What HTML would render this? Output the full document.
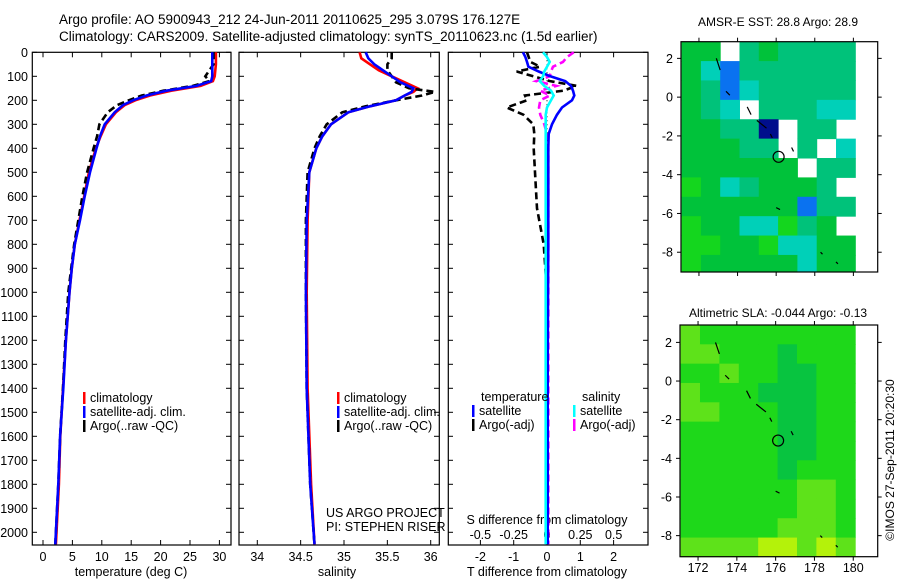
<!DOCTYPE html>
<html><head><meta charset="utf-8"><style>
html,body{margin:0;padding:0;background:#fff;}
svg{display:block;font-family:"Liberation Sans",sans-serif;}
</style></head><body>
<svg id="fig" width="900" height="580" viewBox="0 0 900 580" xmlns="http://www.w3.org/2000/svg">
<text x="59" y="24" font-size="13.5">Argo profile: AO 5900943_212 24-Jun-2011 20110625_295 3.079S 176.127E</text>
<text x="59" y="41" font-size="13.5">Climatology: CARS2009. Satellite-adjusted climatology: synTS_20110623.nc (1.5d earlier)</text>
<text x="778" y="26" font-size="12" text-anchor="middle">AMSR-E SST: 28.8 Argo: 28.9</text>
<text x="778" y="317" font-size="12" text-anchor="middle">Altimetric SLA: -0.044 Argo: -0.13</text>
<text x="0" y="0" font-size="12" text-anchor="middle" transform="translate(894,460) rotate(-90)">©IMOS 27-Sep-2011 20:20:30</text>
<g id="g"></g>
</svg>
<script>
// ---- profile data ----
const tempDepth = [0,50,100,120,140,160,180,200,220,250,300,350,400,500,600,700,800,900,1000,1200,1400,1600,1800,2000,2050];
const tempSat  = [28.8,28.8,28.8,28.6,26.1,21,17.6,15.3,13.6,12.2,10.5,9.7,9.1,8.0,7.1,6.3,5.4,4.9,4.5,3.9,3.45,2.9,2.6,2.2,2.1];
const tempClim = [29.4,29.4,29.2,28.9,26.8,21.8,18.2,15.7,13.9,12.4,10.7,9.8,9.0,7.8,7.0,6.2,5.4,4.9,4.5,3.9,3.4,2.95,2.7,2.3,2.2];
const tempArgo = [29.0,29.0,27.6,28.3,25.5,20.5,16.8,14.6,12.6,11.0,9.6,9.2,8.6,7.5,6.7,6.0,5.3,4.8,4.3,3.8,3.4,2.9,2.6,2.2,2.1];
const salDepth = [0,25,50,75,100,125,150,165,180,200,225,250,300,350,400,500,700,1000,1400,1800,2050];
const salSat  = [35.25,35.28,35.35,35.45,35.55,35.65,35.8,35.78,35.7,35.6,35.3,35.05,34.85,34.75,34.68,34.6,34.57,34.56,34.57,34.61,34.66];
const salClim = [35.18,35.2,35.3,35.4,35.55,35.7,35.85,35.8,35.7,35.6,35.3,35.05,34.85,34.75,34.68,34.6,34.58,34.57,34.58,34.62,34.66];
const salArgo = [35.55,35.55,35.5,35.5,35.55,35.6,35.75,36.05,35.9,35.6,35.25,34.98,34.8,34.72,34.66,34.58,34.56,34.56,34.57,34.61,34.66];
const diffDepth = [0,20,40,60,80,100,120,140,160,180,200,230,260,300,340,400,500,650,800,1000,1300,1600,2050];
const tDiffSat  = [-0.72,-0.65,-0.6,-0.56,-0.25,0.1,0.55,0.72,0.78,0.82,0.75,0.45,0.3,0.15,0.05,0.04,0.04,0.04,0.04,0.03,0.02,0.02,0.02];
const tDiffArgo = [-0.6,-0.55,-0.5,-0.21,-0.91,-0.41,0.09,0.89,0.49,-0.66,-0.6,-1.21,-0.71,-0.41,-0.38,-0.4,-0.36,-0.3,-0.1,0,0,0,0];
const sDiffSat  = [-0.03,0,0.02,0,-0.02,-0.03,-0.054,-0.02,0.03,0.05,0.03,0,-0.01,-0.01,-0.01,-0.01,-0.01,-0.01,-0.01,-0.01,-0.01,-0.01,-0.01];
const sDiffArgo = [0.2,0.15,0.12,0.045,0.03,0.02,-0.08,0.07,-0.05,0.02,-0.05,-0.06,-0.05,-0.02,0,0.01,0.01,0.01,0.01,0.01,0.01,0.01,0.01];
const depthTicks = [0,100,200,300,400,500,600,700,800,900,1000,1100,1200,1300,1400,1500,1600,1700,1800,1900,2000];
const tempTicks = [0,5,10,15,20,25,30];
const salTicks = ["34","34.5","35","35.5","36"];
const tDiffTicks = [-2,-1,0,1,2];
const sDiffTicks = ["-0.5","-0.25","0","0.25","0.5"];
// ---- map data (1-degree cells, rows from north, cols from 171.1E) ----
const sstCodes = [
 [0,0,-1,2,0,2,2,2,2],[0,3,4,2,2,2,2,2,2],[0,2,4,3,2,2,2,2,2],[0,2,3,-1,2,2,2,3,3],
 [0,0,2,2,5,-1,2,2,-1],[0,0,0,2,2,-1,2,-1,3],[0,0,0,0,0,0,-1,2,2],[1,0,3,2,0,0,0,2,-1],
 [0,0,0,0,0,0,4,2,2],[1,0,0,3,3,1,2,0,-1],[1,1,0,0,1,3,3,0,0],[1,0,0,0,0,0,3,0,0]];
const slaCodes = [
 [1,0,0,0,0,0,0,0,0],[1,1,0,0,0,3,0,0,0],[0,0,1,0,0,3,3,0,0],[1,0,0,0,3,3,3,0,0],
 [1,1,0,0,0,3,3,0,0],[0,0,0,0,0,3,3,0,0],[0,0,0,0,0,3,3,0,0],[0,0,0,0,0,3,0,0,0],
 [0,0,0,0,0,0,1,1,0],[0,0,0,0,0,0,1,1,0],[0,0,0,0,0,1,1,1,0],[1,1,1,1,2,2,1,2,1]];
const latTicks = [2,0,-2,-4,-6,-8];
const lonTicks = [172,174,176,178,180];
const floatLon = 176.127, floatLat = -3.079;

const NS="http://www.w3.org/2000/svg";
const G=document.getElementById('g');
function el(t,a,p){const e=document.createElementNS(NS,t);for(const k in a)e.setAttribute(k,a[k]);(p||G).appendChild(e);return e;}
function txt(x,y,s,a){const e=el('text',Object.assign({x:x,y:y,'font-size':12},a||{}));e.textContent=s;return e;}

const TOP=52.3, BOT=545, PXM=0.24;
const yD=d=>TOP+d*PXM;
function frame(x0,x1,name){
  const r=el('rect',{x:x0,y:TOP,width:x1-x0,height:BOT-TOP,fill:'none',stroke:'#000','stroke-width':1.2});
  
  
}
function line(xs,ds,xf,color,name,dash){
  let p='';xs.forEach((v,i)=>{p+=(i?'L':'M')+xf(v).toFixed(1)+','+yD(ds[i]).toFixed(1);});
  const e=el('path',{d:p,fill:'none',stroke:color,'stroke-width':2.6});
  if(dash)e.setAttribute('stroke-dasharray',dash);
  
  
}
function legend(x,y,items,name){
  items.forEach((it,i)=>{
    const g=el('g',{});
    
    
    el('rect',{x:x,y:y+i*14-10,width:2.5,height:12,fill:it[1]},g);
    const t=el('text',{x:x+7,y:y+i*14,'font-size':12.5},g);t.textContent=it[0];
  });
}

// panel 1 temperature
const xT=v=>43+v*5.88;
frame(32.3,231,'temperature-panel');
depthTicks.forEach(d=>{const y=yD(d);el('line',{x1:32.3,x2:37,y1:y,y2:y,stroke:'#000'});el('line',{x1:226,x2:231,y1:y,y2:y,stroke:'#000'});
  const t=txt(28,y+4.5,String(d),{'text-anchor':'end','font-size':12.5});});
tempTicks.forEach(v=>{const x=xT(v);el('line',{x1:x,x2:x,y1:BOT,y2:BOT-5,stroke:'#000'});el('line',{x1:x,x2:x,y1:TOP,y2:TOP+5,stroke:'#000'});
  txt(x,561,String(v),{'text-anchor':'middle','font-size':12.5});});
txt(131,576,'temperature (deg C)',{'text-anchor':'middle','font-size':12.5});
line(tempClim,tempDepth,xT,'#f00','temp-climatology-line');
line(tempArgo,tempDepth,xT,'#000','temp-argo-line','7,4');
line(tempSat,tempDepth,xT,'#00f','temp-satellite-line');
legend(83,402,[['climatology','#f00'],['satellite-adj. clim.','#00f'],['Argo(..raw -QC)','#000']],'temp-legend');

// panel 2 salinity
const xS=v=>344+(v-35)*86.7;
frame(239,439.3,'salinity-panel');
depthTicks.forEach(d=>{const y=yD(d);el('line',{x1:239,x2:244,y1:y,y2:y,stroke:'#000'});el('line',{x1:434,x2:439.3,y1:y,y2:y,stroke:'#000'});});
salTicks.forEach(v=>{const x=xS(+v);el('line',{x1:x,x2:x,y1:BOT,y2:BOT-5,stroke:'#000'});el('line',{x1:x,x2:x,y1:TOP,y2:TOP+5,stroke:'#000'});
  txt(x,561,v,{'text-anchor':'middle','font-size':12.5});});
txt(337,576,'salinity',{'text-anchor':'middle','font-size':12.5});
line(salClim,salDepth,xS,'#f00','sal-climatology-line');
line(salArgo,salDepth,xS,'#000','sal-argo-line','7,4');
line(salSat,salDepth,xS,'#00f','sal-satellite-line');
legend(337,402,[['climatology','#f00'],['satellite-adj. clim.','#00f'],['Argo(..raw -QC)','#000']],'sal-legend');
txt(326,517,'US ARGO PROJECT',{'font-size':12.5});
txt(326,531,'PI: STEPHEN RISER',{'font-size':12.5});

// panel 3 differences
const xTd=v=>547+v*33.3, xSd=v=>547+v*133.3;
frame(448.3,648,'difference-panel');
depthTicks.forEach(d=>{const y=yD(d);el('line',{x1:448.3,x2:453,y1:y,y2:y,stroke:'#000'});el('line',{x1:643,x2:648,y1:y,y2:y,stroke:'#000'});});
el('line',{x1:547,x2:547,y1:TOP,y2:yD(900),stroke:'#000','stroke-dasharray':'1,3'});
tDiffTicks.forEach(v=>{const x=xTd(v);el('line',{x1:x,x2:x,y1:BOT,y2:BOT-5,stroke:'#000'});el('line',{x1:x,x2:x,y1:TOP,y2:TOP+5,stroke:'#000'});
  txt(x,561,String(v),{'text-anchor':'middle','font-size':12.5});});
sDiffTicks.forEach(v=>{txt(xSd(+v),539,v,{'text-anchor':'middle','font-size':12.5});});
txt(547,524,'S difference from climatology',{'text-anchor':'middle','font-size':12.5});
txt(547,576,'T difference from climatology',{'text-anchor':'middle','font-size':12.5});
line(tDiffArgo,diffDepth,xTd,'#000','tdiff-argo-line','7,4');
line(sDiffArgo,diffDepth,xSd,'#f0f','sdiff-argo-line','7,4');
line(tDiffSat,diffDepth,xTd,'#00f','tdiff-satellite-line');
line(sDiffSat,diffDepth,xSd,'#0ff','sdiff-satellite-line');
txt(481,401,'temperature',{'font-size':12.5});
txt(582,401,'salinity',{'font-size':12.5});
legend(472,415,[['satellite','#00f'],['Argo(-adj)','#000']],'tdiff-legend');
legend(573,415,[['satellite','#0ff'],['Argo(-adj)','#f0f']],'sdiff-legend');

// maps
function map(box,codes,pal,name){
  const [x0,x1,y0,y1,lon0,lon1,lat0,lat1]=box;
  const xL=lo=>x0+(lo-lon0)/(lon1-lon0)*(x1-x0);
  const yL=la=>y0+(lat0-la)/(lat0-lat1)*(y1-y0);
  codes.forEach((row,r)=>row.forEach((c,k)=>{
    if(c<0)return;
    const la=lat0-r, lo=171.1+k;
    const xa=Math.max(x0,xL(lo)), xb=xL(lo+1), ya=yL(la), yb=Math.min(y1,yL(la-1));
    const e=el('rect',{x:xa,y:ya,width:xb-xa+0.5,height:yb-ya+0.5,fill:pal[c]});
    
    
  }));
  const coast=[[172.9,2.0,173.1,1.4],[173.4,0.3,173.6,0.1],[174.5,-0.5,174.7,-0.9],[175.0,-1.2,175.5,-1.6],[175.7,-1.9,175.8,-2.1],[176.8,-2.6,176.9,-2.8],[176.0,-5.7,176.2,-5.8],[178.3,-8.0,178.4,-8.1],[179.1,-8.5,179.2,-8.6]];
  coast.forEach(c=>{el('line',{x1:xL(c[0]),y1:yL(c[1]),x2:xL(c[2]),y2:yL(c[3]),stroke:'#000','stroke-width':1.2});});
  const ci=el('circle',{cx:xL(floatLon),cy:yL(floatLat),r:5.5,fill:'none',stroke:'#000','stroke-width':1.2});
  
  
  const fr=el('rect',{x:x0,y:y0,width:x1-x0,height:y1-y0,fill:'none',stroke:'#000','stroke-width':1.2});
  
  
  latTicks.forEach(la=>{const y=yL(la);el('line',{x1:x0-4,x2:x0,y1:y,y2:y,stroke:'#000'});el('line',{x1:x1,x2:x1+4,y1:y,y2:y,stroke:'#000'});
    txt(x0-8,y+4.5,String(la),{'text-anchor':'end','font-size':12.5});});
  lonTicks.forEach(lo=>{const x=xL(lo);el('line',{x1:x,x2:x,y1:y0-4,y2:y0,stroke:'#000'});el('line',{x1:x,x2:x,y1:y1,y2:y1+4,stroke:'#000'});});
  return xL;
}
const sstPal=['#00c23a','#14d61e','#00c27a','#00d0b8','#0a72f0','#000e8c'];
const slaPal=['#1ed81a','#5ee21a','#b4f20a','#08c440'];
map([681,877.7,41.7,272,171.07,181.26,2.86,-9.02],sstCodes,sstPal,'sst-map');
const xL2=map([680,877.7,325,556.7,171.07,181.26,2.9,-9.09],slaCodes,slaPal,'sla-map');
lonTicks.forEach(lo=>{txt(xL2(lo),572,String(lo),{'text-anchor':'middle','font-size':12.5});});
</script>
</body></html>
